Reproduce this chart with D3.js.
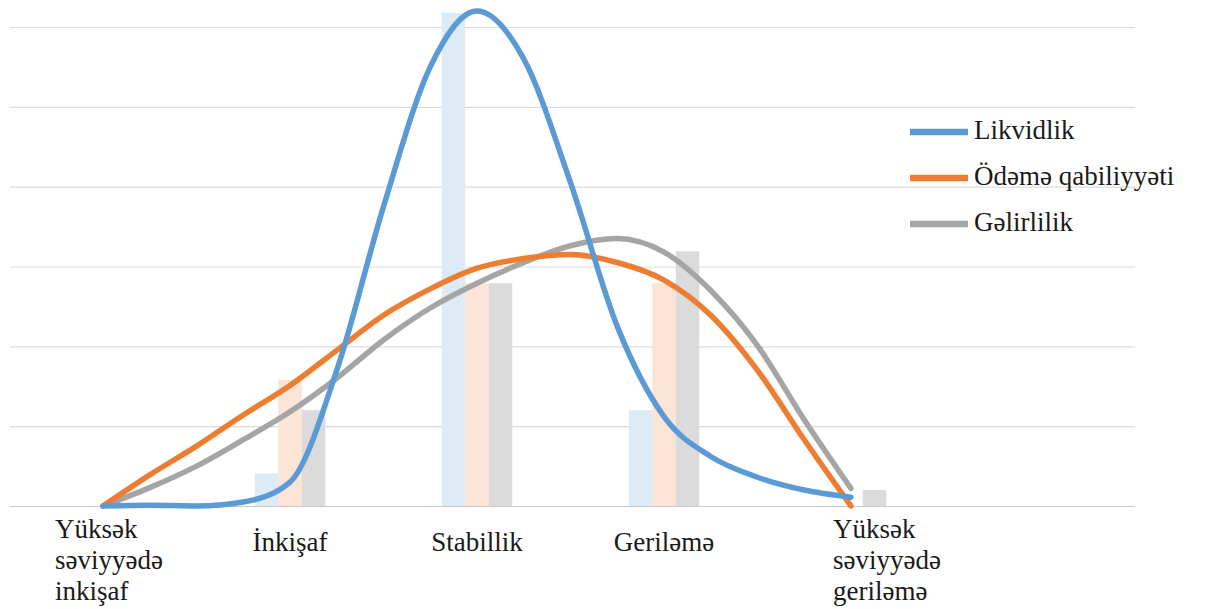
<!DOCTYPE html>
<html>
<head>
<meta charset="utf-8">
<script src="https://cdn.jsdelivr.net/npm/d3@7/dist/d3.min.js"></script>
<style>
  html, body { margin: 0; padding: 0; background: #ffffff; }
  svg { display: block; }
</style>
</head>
<body style="margin:0">
<div id="wrap"></div>
<script>
// ---------- data ----------
const categories = [
  ["Yüksək", "səviyyədə", "inkişaf"],
  ["İnkişaf"],
  ["Stabillik"],
  ["Geriləmə"],
  ["Yüksək", "səviyyədə", "geriləmə"]
];
const seriesNames = ["Likvidlik", "Ödəmə qabiliyyəti", "Gəlirlilik"];

// column values per category
const barLikvidlik = [0, 0.41, 6.18, 1.2, 0];
const barOdeme     = [0, 1.58, 2.79, 2.79, 0];
const barGelir     = [0, 1.2, 2.79, 3.19, 0.2];

// smoothed lines, sampled along the category axis (position, value)
const linePos = [0, 0.25, 0.5, 0.75, 1, 1.25, 1.5, 1.75, 2, 2.25, 2.5, 2.75, 3, 3.25, 3.5, 3.75, 4];
const lineLikvidlik = [0, 0.01, 0, 0.05, 0.3, 1.7, 3.75, 5.5, 6.2, 5.6, 4.05, 2.25, 1.12, 0.62, 0.36, 0.2, 0.11];
const lineOdeme     = [0, 0.39, 0.75, 1.14, 1.51, 1.95, 2.39, 2.72, 2.98, 3.1, 3.15, 3.05, 2.83, 2.39, 1.7, 0.83, 0];
const lineGelir     = [0, 0.23, 0.5, 0.83, 1.18, 1.6, 2.08, 2.48, 2.79, 3.05, 3.26, 3.35, 3.18, 2.7, 2.01, 1.08, 0.22];

const gridTicks = [0, 1, 2, 3, 4, 5, 6];

// ---------- styles ----------
const TEXT_STYLE = "font-family: 'Liberation Serif' !important; font-size: 27px !important;";
const lineColors = ["#5b9bd5", "#ed7d31", "#a5a5a5"];
const barColors  = ["#ddebf7", "#fce4d6", "#dbdbdb"];

const W = 1205, H = 609;
const svg = d3.select("#wrap").append("svg").attr("width", W).attr("height", H);
svg.append("rect").attr("width", W).attr("height", H).attr("fill", "#fff");

const x = d3.scaleLinear().domain([0, 4]).range([103, 851]);
const y = d3.scaleLinear().domain([0, 6]).range([506, 27]);
const sub = d3.scaleBand().domain(seriesNames).range([-35.25, 35.25]).padding(0);

// gridlines
const grid = svg.append("g").attr("transform", "translate(10,0)")
  .call(d3.axisLeft(y).tickValues(gridTicks).tickSize(-1125).tickFormat(""));
grid.select(".domain").remove();
grid.selectAll(".tick line")
  .attr("stroke", d => d === 0 ? "#c8c8c8" : "#dcdcdc")
  .attr("stroke-width", 1.2);

// bars
const barSeries = [barLikvidlik, barOdeme, barGelir];
barSeries.forEach((vals, si) => {
  svg.append("g").selectAll("rect")
    .data(vals)
    .join("rect")
    .attr("x", (d, i) => x(i) + sub(seriesNames[si]))
    .attr("width", sub.bandwidth())
    .attr("y", d => y(d))
    .attr("height", d => y(0) - y(d))
    .attr("fill", barColors[si]);
});

// lines
const lineSeries = [lineLikvidlik, lineOdeme, lineGelir];
const lineGen = d3.line()
  .x(d => x(d[0]))
  .y(d => y(d[1]))
  .curve(d3.curveMonotoneX);
[2, 1, 0].forEach(si => {
  const pts = linePos.map((p, i) => [p, lineSeries[si][i]]);
  svg.append("path")
    .datum(pts)
    .attr("d", lineGen)
    .attr("fill", "none")
    .attr("stroke", lineColors[si])
    .attr("stroke-width", 5.5)
    .attr("stroke-linecap", "round")
    .attr("stroke-linejoin", "round");
});

// category labels (one text element per line)
const labelOffsets = [-48, 0, 0, 0, -18];
categories.forEach((lines, i) => {
  const multi = lines.length > 1;
  svg.append("g").selectAll("text")
    .data(lines)
    .join("text")
    .attr("font-family", "Liberation Serif")
    .attr("font-size", 27)
    .attr("style", TEXT_STYLE)
    .attr("fill", "#1a1a1a")
    .attr("text-anchor", multi ? "start" : "middle")
    .attr("x", x(i) + labelOffsets[i])
    .attr("y", (d, k) => (multi ? 538 : 551) + k * 31)
    .text(d => d);
});

// legend
const legend = svg.append("g");
seriesNames.forEach((name, i) => {
  const ly = 132 + i * 46;
  legend.append("line")
    .attr("x1", 910).attr("x2", 968)
    .attr("y1", ly).attr("y2", ly)
    .attr("stroke", lineColors[i])
    .attr("stroke-width", 6.5);
  legend.append("text")
    .attr("font-family", "Liberation Serif")
    .attr("font-size", 27)
    .attr("style", TEXT_STYLE)
    .attr("fill", "#1a1a1a")
    .attr("x", 974).attr("y", ly + 7)
    .text(name);
});
</script>
</body>
</html>
